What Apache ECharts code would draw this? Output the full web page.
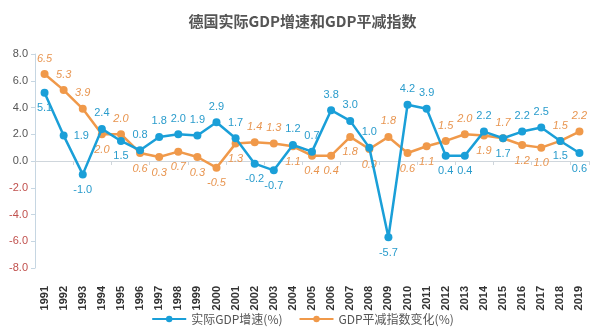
<!DOCTYPE html>
<html>
<head>
<meta charset="utf-8">
<script src="https://cdn.jsdelivr.net/npm/echarts@6/dist/echarts.min.js"></script>
<style>
  html, body { margin: 0; padding: 0; background: #fff; }
  #chart { width: 605px; height: 336px; }
</style>
</head>
<body>
<div id="chart"></div>
<script>
// Years on the category axis
const years = ['1991','1992','1993','1994','1995','1996','1997','1998','1999','2000',
  '2001','2002','2003','2004','2005','2006','2007','2008','2009','2010',
  '2011','2012','2013','2014','2015','2016','2017','2018','2019'];

// Real GDP growth, %
const realGdpGrowth = [5.1, 1.9, -1.0, 2.4, 1.5, 0.8, 1.8, 2.0, 1.9, 2.9,
  1.7, -0.2, -0.7, 1.2, 0.7, 3.8, 3.0, 1.0, -5.7, 4.2,
  3.9, 0.4, 0.4, 2.2, 1.7, 2.2, 2.5, 1.5, 0.6];

// GDP deflator change, %
const deflatorChange = [6.5, 5.3, 3.9, 2.0, 2.0, 0.6, 0.3, 0.7, 0.3, -0.5,
  1.3, 1.4, 1.3, 1.1, 0.4, 0.4, 1.8, 0.9, 1.8, 0.6,
  1.1, 1.5, 2.0, 1.9, 1.7, 1.2, 1.0, 1.5, 2.2];

// Where each value label sits relative to its point
const growthLabelPos = ['bottom','right','bottom','top','bottom','top','top','top','top','top',
  'top','bottom','bottom','top','top','top','top','top','bottom','top',
  'top','bottom','bottom','top','bottom','top','top','bottom','bottom'];
const deflatorLabelPos = ['top','top','top','bottom','top','bottom','bottom','bottom','bottom','bottom',
  'bottom','top','top','bottom','bottom','bottom','bottom','bottom','top','bottom',
  'bottom','top','top','bottom','top','bottom','bottom','top','top'];

const BLUE = '#1a9fd8';
const ORANGE = '#f0994a';

function withLabels(values, positions, color, italic) {
  return values.map((v, i) => ({
    value: v,
    label: {
      show: true,
      position: positions[i],
      distance: 6,
      color: color,
      fontSize: 11,
      fontStyle: italic ? 'italic' : 'normal',
      formatter: p => Number(p.value).toFixed(1)
    }
  }));
}

const chart = echarts.init(document.getElementById('chart'));
chart.setOption({
  backgroundColor: '#fff',
  animation: false,
  title: {
    text: '德国实际GDP增速和GDP平减指数',
    left: 'center',
    top: 9,
    textStyle: { fontSize: 15, fontWeight: 'bold', color: '#555', fontFamily: 'Noto Sans CJK SC' }
  },
  legend: {
    bottom: 6,
    left: 'center',
    itemWidth: 34,
    itemHeight: 8,
    itemGap: 16,
    textStyle: { color: '#555', fontSize: 12, fontFamily: 'Noto Sans CJK SC' },
    data: ['实际GDP增速(%)', 'GDP平减指数变化(%)']
  },
  grid: { left: 35, right: 16, top: 54, bottom: 68 },
  xAxis: [
    {
      type: 'category',
      data: years,
      axisLine: { show: false, onZero: false },
      axisTick: { show: false },
      axisLabel: {
        rotate: 90,
        margin: 18,
        color: '#333',
        fontWeight: 'bold',
        fontSize: 11,
        fontFamily: 'Liberation Sans',
        interval: 0
      }
    },
    {
      type: 'category',
      data: years,
      position: 'bottom',
      axisLine: { show: true, onZero: true, lineStyle: { color: '#cfd6dc' } },
      axisTick: { show: true, length: 4, lineStyle: { color: '#cfd6dc' } },
      axisLabel: { show: false }
    }
  ],
  yAxis: {
    type: 'value',
    min: -8,
    max: 8,
    interval: 2,
    axisLine: { show: true, lineStyle: { color: '#c6d6e2' } },
    axisTick: { show: true, length: 4, lineStyle: { color: '#c6d6e2' } },
    splitLine: { show: false },
    axisLabel: {
      margin: 7,
      fontSize: 11,
      fontFamily: 'Liberation Sans',
      formatter: v => v.toFixed(1),
      color: v => (v < 0 ? '#c0504d' : '#555')
    }
  },
  series: [
    {
      name: '实际GDP增速(%)',
      type: 'line',
      xAxisIndex: 0,
      data: withLabels(realGdpGrowth, growthLabelPos, '#2a9ccc', false),
      symbol: 'circle',
      symbolSize: 8,
      lineStyle: { color: BLUE, width: 2.5 },
      itemStyle: { color: BLUE },
      z: 3
    },
    {
      name: 'GDP平减指数变化(%)',
      type: 'line',
      xAxisIndex: 0,
      data: withLabels(deflatorChange, deflatorLabelPos, '#e89550', true),
      symbol: 'circle',
      symbolSize: 8,
      lineStyle: { color: ORANGE, width: 2.5 },
      itemStyle: { color: ORANGE },
      z: 2
    }
  ]
});
</script>
</body>
</html>
